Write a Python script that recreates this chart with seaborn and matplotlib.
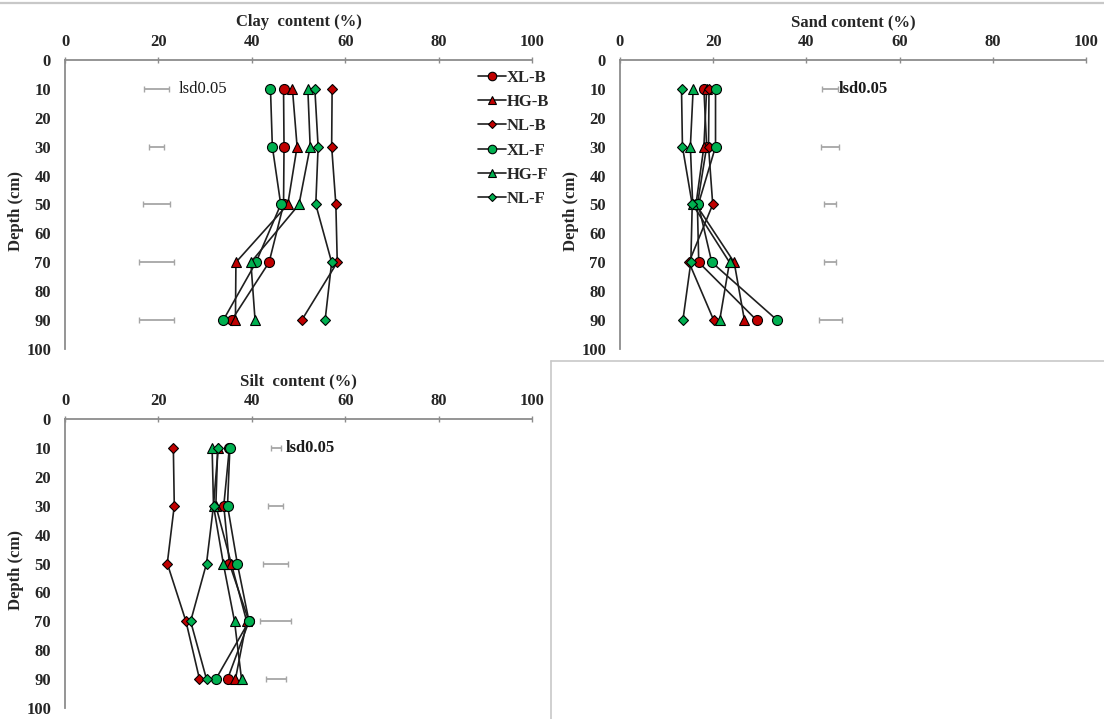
import numpy as np
import pandas as pd
import matplotlib
matplotlib.use("Agg")
import matplotlib.pyplot as plt
from matplotlib.lines import Line2D
import seaborn as sns

# Depths and series
DEPTHS = [10, 30, 50, 70, 90]
TREATMENTS = ["XL-B", "HG-B", "NL-B", "XL-F", "HG-F", "NL-F"]

clay_xl_b = [46.8, 46.9, 46.8, 43.7, 35.7]
clay_hg_b = [48.7, 49.7, 47.7, 36.6, 36.5]
clay_nl_b = [57.2, 57.1, 58.0, 58.3, 50.7]
clay_xl_f = [44.0, 44.4, 46.2, 40.9, 33.9]
clay_hg_f = [52.0, 52.5, 50.1, 39.8, 40.7]
clay_nl_f = [53.5, 54.2, 53.7, 57.1, 55.7]

sand_xl_b = [18.0, 18.6, 16.6, 16.9, 29.3]
sand_hg_b = [18.6, 18.0, 16.3, 24.5, 26.7]
sand_nl_b = [19.1, 19.0, 19.9, 14.8, 20.1]
sand_xl_f = [20.5, 20.5, 16.8, 19.7, 33.7]
sand_hg_f = [15.7, 15.1, 15.6, 23.5, 21.4]
sand_nl_f = [13.2, 13.4, 15.5, 15.2, 13.5]

silt_xl_b = [35.2, 34.0, 35.2, 39.4, 34.8]
silt_hg_b = [32.7, 32.3, 35.6, 38.9, 36.5]
silt_nl_b = [23.2, 23.4, 21.9, 25.9, 28.8]
silt_xl_f = [35.3, 34.8, 36.9, 39.4, 32.3]
silt_hg_f = [31.5, 31.8, 33.9, 36.3, 37.8]
silt_nl_f = [32.8, 31.8, 30.3, 26.9, 30.3]

# lsd0.05 bars: full width and where the bar is centred
clay_lsd = [5.2, 3.4, 5.6, 7.5, 7.5]
clay_lsd_x = 19.6
sand_lsd = [3.5, 3.8, 2.5, 2.7, 5.0]
sand_lsd_x = 45.1
silt_lsd = [2.1, 3.2, 5.2, 6.7, 4.3]
silt_lsd_x = 45.1

RED = "#C00000"
GREEN = "#00B050"
AX_GRAY = "#8c8c8c"
FONT = "Liberation Serif"
FS = 12

styles = {
    "XL-B": dict(marker="o", markersize=7.2, markerfacecolor=RED),
    "HG-B": dict(marker="^", markersize=6.5, markerfacecolor=RED),
    "NL-B": dict(marker="D", markersize=4.6, markerfacecolor=RED),
    "XL-F": dict(marker="o", markersize=7.2, markerfacecolor=GREEN),
    "HG-F": dict(marker="^", markersize=6.5, markerfacecolor=GREEN),
    "NL-F": dict(marker="D", markersize=4.6, markerfacecolor=GREEN),
}


def make_df(series):
    rows = []
    for name, vals in zip(TREATMENTS, series):
        for d, v in zip(DEPTHS, vals):
            rows.append({"treatment": name, "depth": d, "value": v})
    return pd.DataFrame(rows)


clay_df = make_df([clay_xl_b, clay_hg_b, clay_nl_b, clay_xl_f, clay_hg_f, clay_nl_f])
sand_df = make_df([sand_xl_b, sand_hg_b, sand_nl_b, sand_xl_f, sand_hg_f, sand_nl_f])
silt_df = make_df([silt_xl_b, silt_hg_b, silt_nl_b, silt_xl_f, silt_hg_f, silt_nl_f])

sns.set_style("white")
plt.rcParams["font.family"] = [FONT, "DejaVu Serif"]
plt.rcParams["font.weight"] = "bold"

fig = plt.figure(figsize=(11.04, 7.19), dpi=100)
W, H = 1104, 719


def px_axes(left, top, right, bottom):
    return fig.add_axes([left / W, 1 - bottom / H, (right - left) / W, (bottom - top) / H])


def draw_panel(ax, df, title, lsd, lsd_x, lsd_text_x, lsd_bold=True):
    for name in TREATMENTS:
        sub = df[df["treatment"] == name]
        sns.lineplot(data=sub, x="value", y="depth", orient="y", sort=False,
                     estimator=None, ax=ax, color="#1f1f1f", linewidth=1.2,
                     markeredgecolor="black", markeredgewidth=0.8,
                     label=name, legend=False, **styles[name])
    ax.errorbar([lsd_x] * len(DEPTHS), DEPTHS, xerr=np.array(lsd) / 2, fmt="none",
                ecolor="#a6a6a6", elinewidth=1.3, capsize=2.5, capthick=1.0)
    ax.text(lsd_text_x, 10, "lsd0.05", va="center", ha="left", fontsize=FS,
            fontweight="bold" if lsd_bold else "normal", color="#1a1a1a")

    ax.set_xlim(0, 100)
    ax.set_ylim(100, 0)
    ax.xaxis.tick_top()
    ax.xaxis.set_label_position("top")
    ax.set_xticks(range(0, 101, 20))
    ax.set_yticks(range(0, 101, 10))
    ax.tick_params(axis="x", direction="inout", length=4, color=AX_GRAY, pad=5,
                   labelsize=FS, width=1)
    ax.tick_params(axis="y", direction="out", length=4, color=AX_GRAY, pad=6,
                   labelsize=FS, width=1)
    for lab in ax.get_xticklabels() + ax.get_yticklabels():
        lab.set_fontweight("bold")
    for side in ["bottom", "right"]:
        ax.spines[side].set_visible(False)
    for side in ["top", "left"]:
        ax.spines[side].set_color(AX_GRAY)
        ax.spines[side].set_linewidth(1.3)
    ax.set_xlabel(title, fontsize=FS, fontweight="bold")
    ax.set_ylabel("Depth (cm)", fontsize=FS, fontweight="bold")
    ax.xaxis.set_label_coords(0.5, 1 + 34 / 289)
    ax.yaxis.set_label_coords(-41 / 467, 0.5 - 7 / 289)
    ax.patch.set_alpha(0)


ax_clay = px_axes(65, 60, 532, 349)
ax_sand = px_axes(620, 60, 1086, 349)
ax_silt = px_axes(65, 419, 532, 708)

draw_panel(ax_clay, clay_df, "Clay  content (%)", clay_lsd, clay_lsd_x, 24.4, lsd_bold=False)
draw_panel(ax_sand, sand_df, "Sand content (%)", sand_lsd, sand_lsd_x, 47.0)
draw_panel(ax_silt, silt_df, "Silt  content (%)", silt_lsd, silt_lsd_x, 47.3)

handles = [Line2D([0], [0], color="#1f1f1f", linewidth=1.2, markeredgecolor="black",
                  markeredgewidth=0.8, **styles[n]) for n in TREATMENTS]
leg = ax_clay.legend(handles, TREATMENTS, loc="upper left", bbox_to_anchor=(0.87, 0.99),
                     frameon=False, fontsize=FS, handlelength=1.7, handletextpad=0.05,
                     labelspacing=0.5, borderaxespad=0, markerscale=0.85)
for t in leg.get_texts():
    t.set_fontweight("bold")

# frame lines of the sheet
frame = "#c8c8c8"
fig.add_artist(Line2D([0, 1], [1 - 3 / H, 1 - 3 / H], color=frame, linewidth=1.6))
fig.add_artist(Line2D([551 / W, 1], [1 - 361 / H, 1 - 361 / H], color=frame, linewidth=1.2))
fig.add_artist(Line2D([551 / W, 551 / W], [1 - 361 / H, 0], color=frame, linewidth=1.2))

fig.savefig("out.png", dpi=100, facecolor="white")
